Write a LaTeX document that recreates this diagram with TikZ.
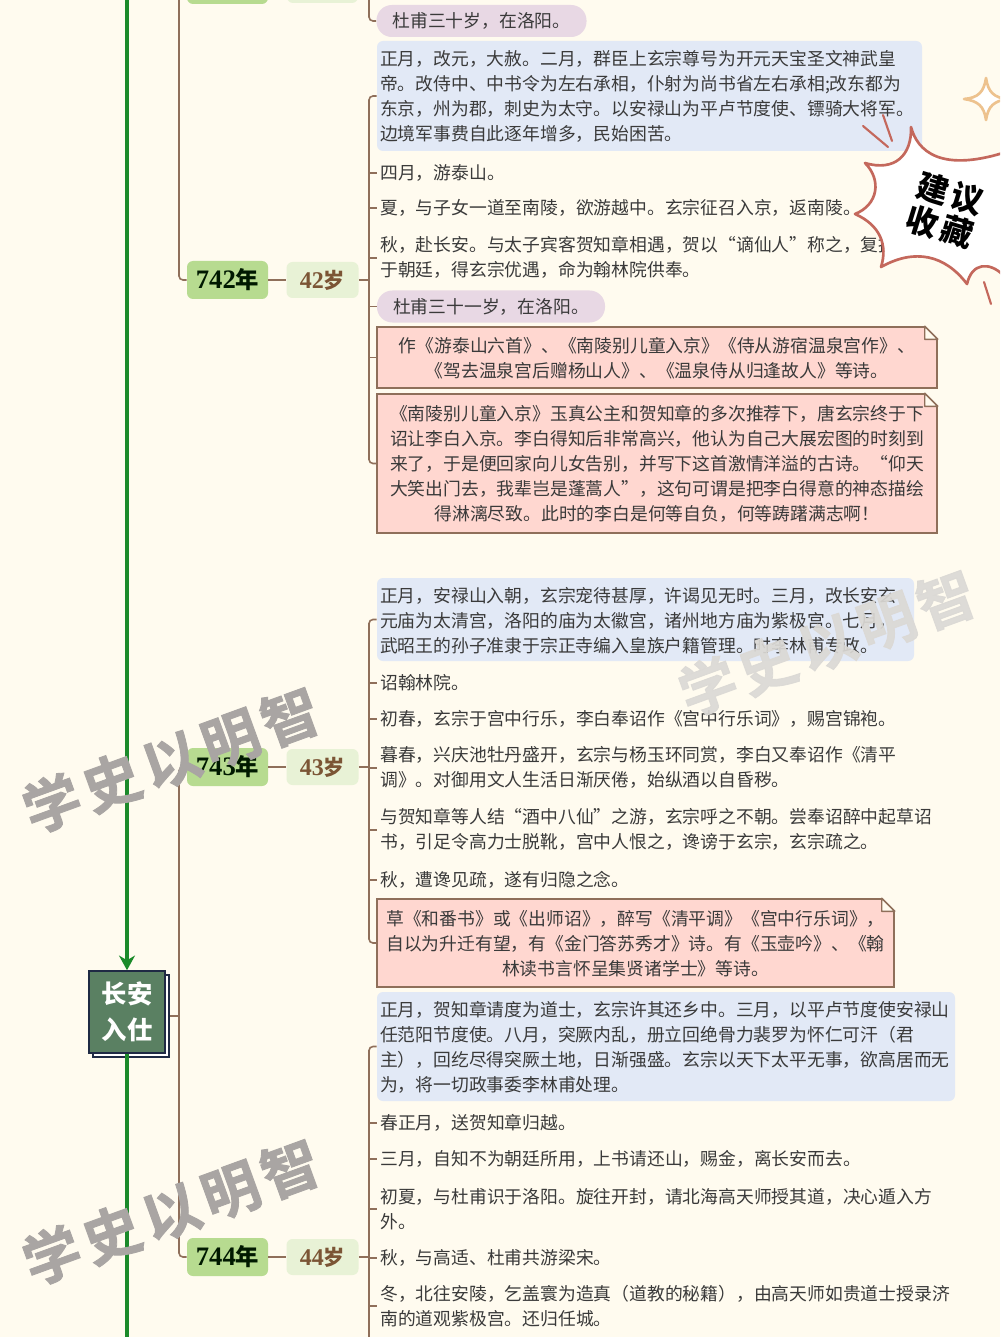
\documentclass[tikz,border=0pt]{standalone}
\usepackage{fontspec}
\setmainfont{Noto Sans CJK SC}
\newfontfamily\numfont{Liberation Serif}[BoldFont={Liberation Serif Bold}]
\newfontfamily\wmfont{Noto Sans CJK SC Bold}[FakeBold=1.5]
\usetikzlibrary{arrows.meta,calc}
\definecolor{bgc}{HTML}{FFFBEF}
\definecolor{txtc}{HTML}{3A3A3A}
\definecolor{linkc}{HTML}{8F6F5A}
\definecolor{bluec}{HTML}{E2E9F6}
\definecolor{pillc}{HTML}{E8D8E4}
\definecolor{redc}{HTML}{FFD7D0}
\definecolor{yearc}{HTML}{B7DB90}
\definecolor{agec}{HTML}{E8F2D6}
\definecolor{agetxt}{HTML}{7B5535}
\definecolor{greenc}{HTML}{1B8A2A}
\definecolor{mainc}{HTML}{5A8062}
\definecolor{navyc}{HTML}{1F2A44}
\definecolor{wmc}{HTML}{A9A5A3}
\definecolor{wmlight}{HTML}{DBD9D5}
\definecolor{burstc}{HTML}{C4685C}
\definecolor{starc}{HTML}{EDC28E}
\tikzset{
  body/.style={font=\fontsize{13.35}{18.75}\selectfont,text=txtc},
  itemnode/.style={body,anchor=west,inner xsep=2.25pt,inner ysep=0pt,align=left,yshift=-0.6pt},
  bluebox/.style={fill=bluec,rounded corners=4.5pt,inner sep=0pt},
  bluebox text/.style={body,align=left,inner sep=0pt,yshift=-0.6pt},
  redbox/.style={fill=redc,draw=linkc,line width=1.1pt,inner sep=0pt},
  redbox text/.style={body,align=center,inner sep=0pt,yshift=-0.6pt},
  pillbox/.style={body,fill=pillc,rounded corners=11.5pt,align=left,inner xsep=12pt,inner ysep=0pt,minimum height=24pt},
  yearbox/.style={fill=yearc,rounded corners=4.5pt,inner sep=0pt,text=black!90!green,font=\bfseries},
  agebox/.style={fill=agec,rounded corners=4.5pt,inner sep=0pt,text=agetxt,font=\bfseries},
  link/.style={draw=linkc,line width=1.2pt,rounded corners=3pt},
  spine/.style={draw=greenc,line width=3pt},
  wmark/.style={font=\fontsize{43}{50}\selectfont\wmfont,text=wmc,rotate=20,inner sep=0pt},
}
\newcommand\bx[7]{%
  \pgfmathsetmacro\bxw{(#5-#3)*0.75}\pgfmathsetmacro\bxh{(#6-#4)*0.75}\pgfmathsetmacro\bxt{(#5-#3-6)*0.75}%
  \node[#2,minimum width=\bxw pt,minimum height=\bxh pt] (#1) at ({(#3+#5)/2},{(#4+#6)/2}) {};
  \node[#2 text,text width=\bxt pt] (#1t) at (#1.center) {#7};}
\newcommand\plainbx[6]{%
  \pgfmathsetmacro\bxw{(#5-#3)*0.75}\pgfmathsetmacro\bxh{(#6-#4)*0.75}%
  \node[#2,minimum width=\bxw pt,minimum height=\bxh pt] (#1) at ({(#3+#5)/2},{(#4+#6)/2}) {};}
\newcommand\yr[4]{\node[yearbox,minimum width=60.75pt,minimum height=28.5pt] (#1) at (227.5,#2) {{\numfont\fontsize{20}{19}\selectfont #3}{\fontsize{17.5}{19}\selectfont 年}};
  \node[agebox,minimum width=54pt,minimum height=27pt] (#1a) at (322.5,#2) {{\numfont\fontsize{18}{19}\selectfont #4}{\fontsize{16}{19}\selectfont 岁}};}
\newcommand\fold[1]{%
  \fill[bgc] ($(#1.north east)+(0.6,-0.6)$) -- ($(#1.north east)+(-13,-0.6)$) -- ($(#1.north east)+(0.6,13)$) -- cycle;
  \draw[draw=linkc,line width=1.1pt,fill=bgc,line join=round] ($(#1.north east)+(-13,0)$) -- ($(#1.north east)+(0,13)$) -- ($(#1.north east)+(-13,13)$) -- cycle;}
\newcommand\burst{(911,127) .. controls (917,150) and (940,175) .. (1012,150) -- (1012,272) -- (1003,275) .. controls (990,262) and (972,262) .. (967,284) .. controls (945,255) and (915,248) .. (881,267) .. controls (888,245) and (880,225) .. (855,214) .. controls (878,205) and (882,180) .. (865,163) .. controls (895,172) and (912,155) .. (911,127) -- cycle}
\newcommand\wmtext{学\kern4.5pt 史\kern4.5pt 以\kern4.5pt 明\kern4.5pt 智}
\begin{document}
\begin{tikzpicture}[x=0.75pt,y=-0.75pt]
\clip (0,0) rectangle (1000,1337);
\fill[bgc] (0,0) rectangle (1000,1337);
\coordinate (xt) at (369,0);
\coordinate (xl) at (179,0);
\coordinate (stop) at (127,-5);
\coordinate (sbot) at (127,1342);
\coordinate (ltop) at (179,-5);
\coordinate (ttop) at (369,-5);
\coordinate (tbot) at (369,1342);

% centre node
\plainbx{cshadow}{fill=white,draw=navyc,line width=1.1pt}{93}{975}{169}{1057}
\node[fill=mainc,draw=navyc,line width=1.2pt,minimum width=57pt,minimum height=61.5pt,inner sep=0pt,align=center,text=white,font=\fontsize{19}{27}\selectfont\bfseries] (cn) at (127,1012) {长安\\入仕};
\draw[spine,-{Stealth[length=11pt,width=12pt]}] (stop) -- (cn.north);
\draw[spine] (cn.south) -- (sbot);

% year and age boxes
\fill[yearc,rounded corners=4.5pt] (187,-35) rectangle (268,4);
\fill[agec,rounded corners=4.5pt] (287,-33) rectangle (358,3);
\yr{y42}{280}{742}{42}
\yr{y43}{767}{743}{43}
\yr{y44}{1257}{744}{44}

% first block
\node[pillbox,minimum width=156.75pt] (p30) at (481.5,21) {杜甫三十岁，在洛阳。};
\bx{b1}{bluebox}{377}{41}{922}{151}{正月，改元，大赦。二月，群臣上玄宗尊号为开元天宝圣文神武皇\\帝。改侍中、中书令为左右承相，仆射为尚书省左右承相;改东都为\\东京，州为郡，刺史为太守。以安禄山为平卢节度使、镖骑大将军。\\边境军事费自此逐年增多，民始困苦。}
\node[itemnode] (a1) at (377,172) {四月，游泰山。};
\node[itemnode] (a2) at (377,207) {夏，与子女一道至南陵，欲游越中。玄宗征召入京，返南陵。};
\node[itemnode] (a3) at (377,257) {秋，赴长安。与太子宾客贺知章相遇，贺以“谪仙人”称之，复推\\于朝廷，得玄宗优遇，命为翰林院供奉。};
\node[pillbox,minimum width=171pt] (p31) at (491,306.5) {杜甫三十一岁，在洛阳。};
\bx{r1}{redbox}{377}{327}{937}{388}{作《游泰山六首》、《南陵别儿童入京》《侍从游宿温泉宫作》、\\《驾去温泉宫后赠杨山人》、《温泉侍从归逢故人》等诗。}
\bx{r2}{redbox}{377}{394}{937}{533}{《南陵别儿童入京》玉真公主和贺知章的多次推荐下，唐玄宗终于下\\诏让李白入京。李白得知后非常高兴，他认为自己大展宏图的时刻到\\来了，于是便回家向儿女告别，并写下这首激情洋溢的古诗。“仰天\\大笑出门去，我辈岂是蓬蒿人”，这句可谓是把李白得意的神态描绘\\得淋漓尽致。此时的李白是何等自负，何等踌躇满志啊！}
\fold{r1}\fold{r2}

% second block
\bx{b2}{bluebox}{377}{578}{914}{661}{正月，安禄山入朝，玄宗宠待甚厚，许谒见无时。三月，改长安玄\\元庙为太清宫，洛阳的庙为太徽宫，诸州地方庙为紫极宫。七月，\\武昭王的孙子准隶于宗正寺编入皇族户籍管理。时李林甫专政。}
\node[itemnode] (c1) at (377,682) {诏翰林院。};
\node[itemnode] (c2) at (377,718) {初春，玄宗于宫中行乐，李白奉诏作《宫中行乐词》，赐宫锦袍。};
\node[itemnode] (c3) at (377,767) {暮春，兴庆池牡丹盛开，玄宗与杨玉环同赏，李白又奉诏作《清平\\调》。对御用文人生活日渐厌倦，始纵酒以自昏秽。};
\node[itemnode] (c4) at (377,829) {与贺知章等人结“酒中八仙”之游，玄宗呼之不朝。尝奉诏醉中起草诏\\书，引足令高力士脱靴，宫中人恨之，谗谤于玄宗，玄宗疏之。};
\node[itemnode] (c5) at (377,879) {秋，遭谗见疏，遂有归隐之念。};
\bx{r3}{redbox}{377}{899}{894}{987}{草《和番书》或《出师诏》，醉写《清平调》《宫中行乐词》，\\自以为升迁有望，有《金门答苏秀才》诗。有《玉壶吟》、《翰\\林读书言怀呈集贤诸学士》等诗。}
\fold{r3}

% third block
\bx{b3}{bluebox}{377}{992}{955}{1101}{正月，贺知章请度为道士，玄宗许其还乡中。三月，以平卢节度使安禄山\\任范阳节度使。八月，突厥内乱，册立回绝骨力裴罗为怀仁可汗（君\\主），回纥尽得突厥土地，日渐强盛。玄宗以天下太平无事，欲高居而无\\为，将一切政事委李林甫处理。}
\node[itemnode] (d1) at (377,1122) {春正月，送贺知章归越。};
\node[itemnode] (d2) at (377,1158) {三月，自知不为朝廷所用，上书请还山，赐金，离长安而去。};
\node[itemnode] (d3) at (377,1208) {初夏，与杜甫识于洛阳。旋往开封，请北海高天师授其道，决心遁入方\\外。};
\node[itemnode] (d4) at (377,1257) {秋，与高适、杜甫共游梁宋。};
\node[itemnode] (d5) at (377,1305) {冬，北往安陵，乞盖寰为造真（道教的秘籍），由高天师如贵道士授录济\\南的道观紫极宫。还归任城。};

% connectors
\draw[link] (ltop) -- (xl|-y42.west) -- (y42.west);
\draw[link] (y43.west) -- (xl|-y43.west) -- (xl|-y44.west) -- (y44.west);
\draw[link] (xl|-cshadow.east) -- (cshadow.east);
\foreach \y in {y42,y43,y44}{
  \draw[link] (\y.east) -- (\y a.west);
  \draw[link] (\y a.east) -- (xt|-\y a.east);
}
\draw[link] (p30.west) -- (xt|-p30.west) -- (ttop);
\draw[link] (b1.west) -- (xt|-b1.west) -- (xt|-r2.west) -- (r2.west);
\foreach \n in {a1,a2,a3,p31,r1}{\draw[link] (xt|-\n.west) -- (\n.west);}
\draw[link] (b2.west) -- (xt|-b2.west) -- (xt|-r3.west) -- (r3.west);
\foreach \n in {c1,c2,c3,c4,c5}{\draw[link] (xt|-\n.west) -- (\n.west);}
\draw[link] (b3.west) -- (xt|-b3.west) -- (tbot);
\foreach \n in {d1,d2,d3,d4,d5}{\draw[link] (xt|-\n.west) -- (\n.west);}

% watermarks
\node[wmark] (w1) at (171,760) {\wmtext};
\node[wmark] (w2) at (171,1212) {\wmtext};
\node[wmark,text=wmlight,text opacity=0.92] (w3) at (827,643) {\wmtext};

% burst badge
\path[fill=white,draw=burstc,line width=2pt,line join=round] \burst;
\draw[burstc,line width=1.6pt,line cap=round] (863,126) -- (888,147);
\draw[burstc,line width=1.6pt,line cap=round] (883,115) -- (892,141);
\draw[burstc,line width=1.6pt,line cap=round] (984,282) -- (991,304);
\node[rotate=-17,align=center,inner sep=0pt,text=black,font=\fontsize{24}{26}\selectfont\bfseries] (tag) at (945,210) {建\kern3pt 议\\收\kern3pt 藏};
\path[fill=white,draw=starc,line width=2pt,line join=round] (986,78) .. controls (988,92) and (994,98) .. (1008,99) .. controls (994,101) and (988,106) .. (986,120) .. controls (984,106) and (978,101) .. (964,99) .. controls (978,98) and (984,92) .. (986,78) -- cycle;
\end{tikzpicture}
\end{document}
